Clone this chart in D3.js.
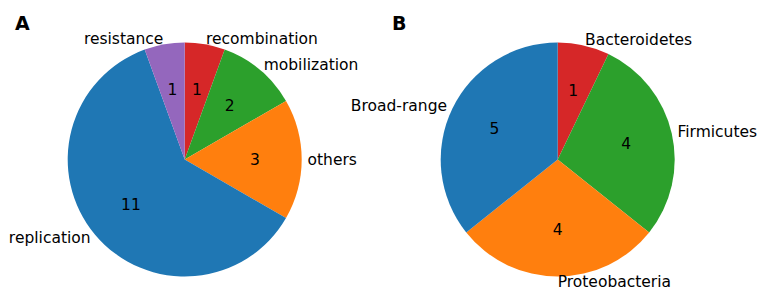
<!DOCTYPE html>
<html>
<head>
<meta charset="utf-8">
<script src="https://cdn.jsdelivr.net/npm/d3@7"></script>
<style>
  body { margin: 0; background: #fff; }
  text { font-family: "DejaVu Sans", sans-serif; }
</style>
</head>
<body>
<script>
// panel A: functional groups
var funcLabels = ["recombination", "mobilization", "others", "replication", "resistance"];
var funcValues = [1, 2, 3, 11, 1];
var funcColors = ["#d62728", "#2ca02c", "#ff7f0e", "#1f77b4", "#9467bd"];

// panel B: host range
var hostLabels = ["Bacteroidetes", "Firmicutes", "Proteobacteria", "Broad-range"];
var hostValues = [1, 4, 4, 5];
var hostColors = ["#d62728", "#2ca02c", "#ff7f0e", "#1f77b4"];

var W = 757, H = 288, R = 117;

var svg = d3.select("body").append("svg")
  .attr("width", W).attr("height", H);

var drawPie = function(cx, cy, letter, lx, labels, values, colors){
  var pie = d3.pie().sort(null).value(function(d){ return d; });
  var arcs = pie(values);
  var arc = d3.arc().innerRadius(0).outerRadius(R);
  var g = svg.append("g").attr("transform", "translate(" + cx + "," + cy + ")");

  g.selectAll("path").data(arcs).enter().append("path")
    .attr("d", arc)
    .attr("fill", function(d, i){ return colors[i]; });

  // numbers inside, at 0.6 radius
  g.selectAll("text.num").data(arcs).enter().append("text")
    .attr("class", "num")
    .attr("x", function(d){ var a = (d.startAngle + d.endAngle) / 2; return Math.sin(a) * R * 0.6; })
    .attr("y", function(d){ var a = (d.startAngle + d.endAngle) / 2; return -Math.cos(a) * R * 0.6; })
    .attr("text-anchor", "middle")
    .attr("dominant-baseline", "central")
    .attr("font-size", 15.5)
    .text(function(d){ return d.value; });

  // category labels outside
  g.selectAll("text.lab").data(arcs).enter().append("text")
    .attr("class", "lab")
    .attr("x", function(d){ var a = (d.startAngle + d.endAngle) / 2; return Math.sin(a) * R * 1.05; })
    .attr("y", function(d){ var a = (d.startAngle + d.endAngle) / 2; return -Math.cos(a) * R * 1.05; })
    .attr("text-anchor", function(d){ var a = (d.startAngle + d.endAngle) / 2; return Math.sin(a) > -1e-6 ? "start" : "end"; })
    .attr("dominant-baseline", "central")
    .attr("font-size", 15.5)
    .text(function(d, i){ return labels[i]; });

  svg.append("text")
    .attr("x", lx).attr("y", 30)
    .attr("font-size", 19).attr("font-weight", "bold")
    .text(letter);
};

drawPie(184.7, 159.5, "A", 15, funcLabels, funcValues, funcColors);
drawPie(557.7, 159.5, "B", 392, hostLabels, hostValues, hostColors);
</script>
</body>
</html>
